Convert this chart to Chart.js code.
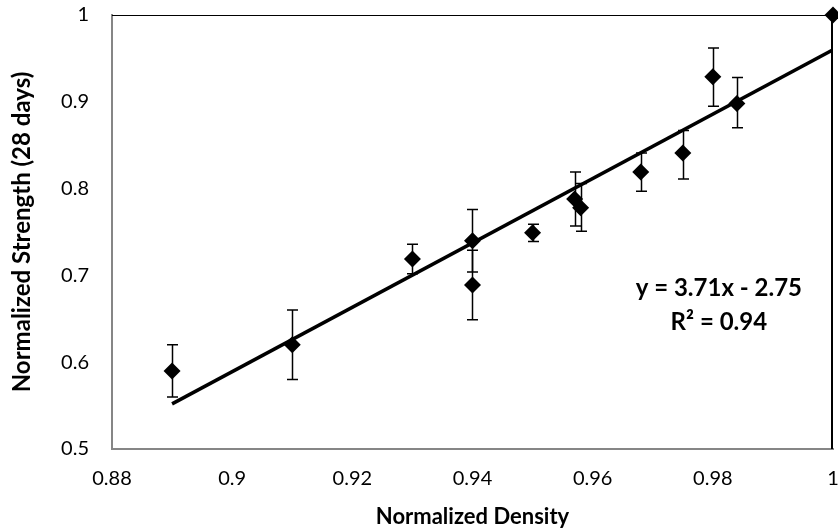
<!DOCTYPE html>
<html>
<head>
<meta charset="utf-8">
<script src="https://cdn.jsdelivr.net/npm/chart.js@4.4.1/dist/chart.umd.min.js"></script>
<style>
  html, body { margin: 0; padding: 0; background: #fff; }
  #wrap { width: 838px; height: 530px; }
</style>
</head>
<body>
<div id="wrap"><canvas id="chart"></canvas></div>
<script>
// values
const density = [0.89, 0.91, 0.93, 0.94, 0.94, 0.95, 0.957, 0.958, 0.968, 0.975, 0.98, 0.984, 1.0]
const strength = [0.59, 0.62, 0.719, 0.74, 0.689, 0.749, 0.788, 0.778, 0.819, 0.841, 0.929, 0.898, 1.0]
const errUp = [0.03, 0.04, 0.017, 0.036, 0.04, 0.01, 0.031, 0.028, 0.022, 0.026, 0.033, 0.03, 0]
const errDown = [0.03, 0.04, 0.017, 0.036, 0.04, 0.01, 0.031, 0.027, 0.022, 0.03, 0.034, 0.028, 0]

// linear trend line as drawn (y = 3.71x - 2.75)
const fitX = [0.89, 1.0]
const fitY = [0.552, 0.96]

const xTicks = [0.88, 0.9, 0.92, 0.94, 0.96, 0.98, 1]
const yTicks = [0.5, 0.6, 0.7, 0.8, 0.9, 1]

const eqLines = ['y = 3.71x - 2.75', 'R\u00B2 = 0.94']
const eqPos = { x: 0.981, y: [0.6855, 0.6463] }

const axisGray = '#868686'
const labelFont = { family: 'Lato', size: 20 }

const errorBars = {
  id: 'errorBars',
  afterDatasetsDraw(chart) {
    const { ctx, scales: { x, y } } = chart
    ctx.save()
    ctx.strokeStyle = '#000'
    ctx.lineWidth = 1.5
    density.forEach((d, i) => {
      if (!errUp[i] && !errDown[i]) return
      const px = Math.round(x.getPixelForValue(d)) + 0.5
      const top = y.getPixelForValue(strength[i] + errUp[i])
      const bot = y.getPixelForValue(strength[i] - errDown[i])
      ctx.beginPath()
      ctx.moveTo(px, top)
      ctx.lineTo(px, bot)
      ctx.moveTo(px - 5.5, top)
      ctx.lineTo(px + 5.5, top)
      ctx.moveTo(px - 5.5, bot)
      ctx.lineTo(px + 5.5, bot)
      ctx.stroke()
    })
    ctx.restore()
  },
}

const frame = {
  id: 'frame',
  beforeDatasetsDraw(chart) {
    const { ctx, chartArea: a } = chart
    ctx.save()
    ctx.strokeStyle = '#000'
    ctx.lineWidth = 1.2
    ctx.beginPath()
    ctx.moveTo(a.left, a.top + 0.5)
    ctx.lineTo(a.right, a.top + 0.5)
    ctx.stroke()
    ctx.lineWidth = 2
    ctx.beginPath()
    ctx.moveTo(a.right - 1, a.top)
    ctx.lineTo(a.right - 1, a.bottom)
    ctx.stroke()
    ctx.restore()
  },
}

const equation = {
  id: 'equation',
  afterDraw(chart) {
    const { ctx, scales: { x, y } } = chart
    ctx.save()
    ctx.fillStyle = '#000'
    ctx.font = 'bold 24px Lato'
    ctx.textAlign = 'center'
    ctx.textBaseline = 'middle'
    eqLines.forEach((t, i) => {
      ctx.fillText(t, x.getPixelForValue(eqPos.x), y.getPixelForValue(eqPos.y[i]))
    })
    ctx.restore()
  },
}

new Chart(document.getElementById('chart'), {
  data: {
    datasets: [
      {
        type: 'scatter',
        data: density.map((d, i) => ({ x: d, y: strength[i] })),
        pointStyle: 'rectRot',
        pointRadius: 8.5,
        pointHoverRadius: 8.5,
        backgroundColor: '#000',
        borderColor: '#000',
        borderWidth: 0,
        clip: false,
        order: 0,
      },
      {
        type: 'line',
        data: fitX.map((d, i) => ({ x: d, y: fitY[i] })),
        borderColor: '#000',
        borderWidth: 3.5,
        pointRadius: 0,
        fill: false,
        order: 1,
      },
    ],
  },
  options: {
    responsive: true,
    maintainAspectRatio: false,
    animation: false,
    layout: { autoPadding: false, padding: { top: 15, right: 5, left: 0, bottom: 0 } },
    plugins: {
      legend: { display: false },
      tooltip: { enabled: false },
    },
    scales: {
      x: {
        type: 'linear',
        min: 0.88,
        max: 1,
        afterBuildTicks: (s) => { s.ticks = xTicks.map((v) => ({ value: v })) },
        afterFit: (s) => {
          s.height = 81
          s.paddingLeft = 0
          s.paddingRight = 0
        },
        grid: { display: false, drawTicks: true, tickLength: 7, tickColor: axisGray, tickWidth: 1.5 },
        border: { color: axisGray, width: 2 },
        ticks: { color: '#000', font: labelFont, padding: 11, maxRotation: 0, callback: (v) => String(+v.toFixed(2)) },
        title: { display: true, text: 'Normalized Density', color: '#000', font: { family: 'Lato', size: 22, weight: 'bold' }, padding: { bottom: 0, top: 0 } },
      },
      y: {
        type: 'linear',
        min: 0.5,
        max: 1,
        afterBuildTicks: (s) => { s.ticks = yTicks.map((v) => ({ value: v })) },
        afterFit: (s) => {
          s.width = 112
          s.paddingTop = 0
          s.paddingBottom = 0
        },
        grid: { display: false, drawTicks: true, tickLength: 7, tickColor: axisGray, tickWidth: 1.5 },
        border: { color: axisGray, width: 2 },
        ticks: { color: '#000', font: labelFont, padding: 16, callback: (v) => String(+v.toFixed(1)) },
        title: { display: true, text: 'Normalized Strength (28 days)', color: '#000', font: { family: 'Lato', size: 24, weight: 'bold' }, padding: { top: 8, bottom: 0 } },
      },
    },
  },
  plugins: [errorBars, frame, equation],
})
</script>
</body>
</html>
